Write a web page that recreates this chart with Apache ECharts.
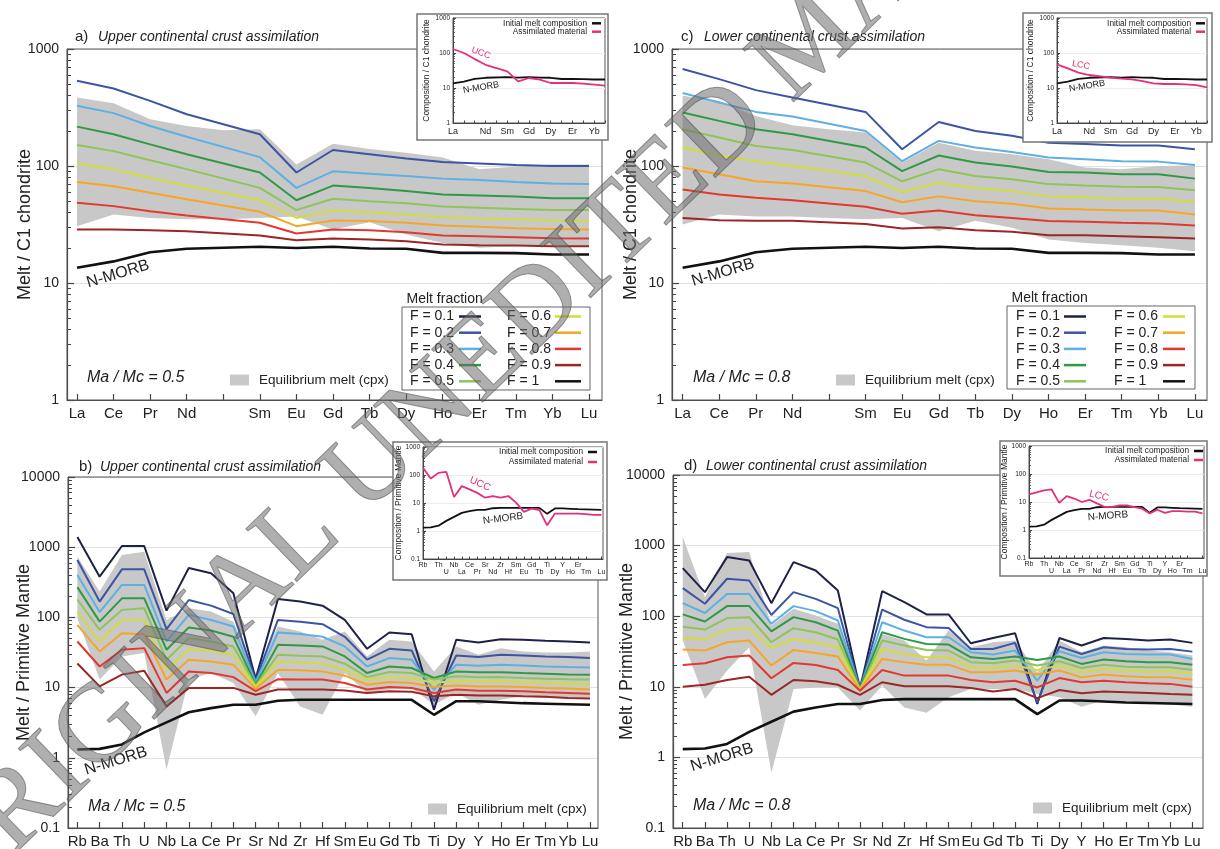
<!DOCTYPE html>
<html><head><meta charset="utf-8">
<script src="https://cdn.jsdelivr.net/npm/echarts@6/dist/echarts.min.js"></script>
<style>html,body{margin:0;padding:0;background:#fff}#c{width:1220px;height:849px}</style>
</head><body><div id="c"></div><script>
// ---------- categories ----------
const reeCats = ['La','Ce','Pr','Nd','','Sm','Eu','Gd','Tb','Dy','Ho','Er','Tm','Yb','Lu'];
const reeInsetCats = ['La','','','Nd','','Sm','','Gd','','Dy','','Er','','Yb',''];
const spiderCats = ['Rb','Ba','Th','U','Nb','La','Ce','Pr','Sr','Nd','Zr','Hf','Sm','Eu','Gd','Tb','Ti','Dy','Y','Ho','Er','Tm','Yb','Lu'];
const meltNames = ['F = 0.1','F = 0.2','F = 0.3','F = 0.4','F = 0.5','F = 0.6','F = 0.7','F = 0.8','F = 0.9','F = 1'];
const meltColors = ['#1e2246','#3b55a4','#5db0e3','#2f9a46','#8ec555','#d2dc3a','#f6a623','#e2382d','#9b2622','#111111'];

// ---------- panel a: UCC, chondrite (Pm = null) ----------
const a_F02 = [535,460,360,277,null,187,88,137,126,116,108,105,102,100,100];
const a_F03 = [327,283,220,178,null,119,65,90,86,82,78,76,73,71,70];
const a_F04 = [217,187,153,126,null,88,51,68,65,61,57,56,55,53,53];
const a_F05 = [151,134,112,94,null,65,42,52.5,50,48,45,44,43,42,42];
const a_F06 = [105,94,79,68,null,51,36,41.7,40,38.5,36.5,35.6,35,34.4,34];
const a_F07 = [73,67,59,52,null,40.6,30.6,34.2,33.8,32.7,31,30.2,29.4,29,28.6];
const a_F08 = [48.5,45.4,41,37.8,null,32.7,26.5,28.6,28.3,27.2,25.5,25.1,24.6,24.1,24];
const a_F09 = [28.6,28.6,28.3,27.7,null,25.5,23.2,24,23.5,22.7,21.3,21,20.9,20.6,20.6];
const nmorbC1 = [13.5,15.3,18.3,19.6,null,20.4,19.9,20.4,19.7,19.6,18.1,18.1,18,17.5,17.5];
const a_bandHigh = [385,344,251,220,202,206,103,155,140,130,118,94,99,103,103];
const a_bandLow = [30.6,38.5,36,35,35,36,37,28.6,33,26,22,20,20.6,21,20.6];

// ---------- panel c: LCC, chondrite ----------
const c_F02 = [674,553,445,385,null,290,139,238,199,181,158,154,150,150,139];
const c_F03 = [420,349,290,265,null,199,110,164,144,132,118,114,110,109,102];
const c_F04 = [287,243,206,187,null,144,90.5,123,107,99,89,88,85,85,78];
const c_F05 = [206,175,148,137,null,107,74,94,82,77,70,68,66.5,66,62];
const c_F06 = [144,123,110,100,null,82,60,72,65,61,55,54,52.5,52.5,49.4];
const c_F07 = [97,85,74,71,null,61,49,55,50,47.5,43.4,42.5,41.7,41.7,38.5];
const c_F08 = [63,57,53.5,51,null,44.8,39,41.7,38,36,33.8,33.4,32.7,32.3,31];
const c_F09 = [36,34.4,34,34,null,32,29.2,30,28.3,27.4,25.6,25.6,25.1,24.6,24];
const c_bandHigh = [398,360,268,223,206,193,107,158,135,126,114,97,94,100,101];
const c_bandLow = [31.6,38.5,37,37,36,35,36,27.7,34,29.6,23.5,22,21,20,18.7];

// ---------- panel b: UCC, primitive mantle ----------
const b_F01 = [1400,380,1040,1040,125,505,425,221,13.2,183,168,147,92,35.7,61,57.7,4.86,48,44,49,48,46.4,45.4,44];
const b_F02 = [656,168,484,484,68,177,147,112,12.7,92,87,80,53,25,35.7,33.8,6.4,28.7,27.2,29.4,28.7,27.8,27.2,26.3];
const b_F03 = [402,119,290,290,45.4,109,92,74,11.9,61,58,53,38.6,20,26.3,25,9.3,21.2,20.5,21.2,20.7,20,19.6,19.4];
const b_F04 = [270,87,187,187,34.6,72,65,53,11,40.7,39.9,38.6,27.8,16.1,20,19,13.7,17,16.5,16.5,16.1,15.8,15.4,15.3];
const b_F05 = [180,66.5,128,135,25,50.7,45.4,38.6,10.7,29.4,28.4,27.8,21.9,14.1,16.7,16.1,13,14.5,14,14.1,13.7,13.4,13.1,13];
const b_F06 = [121,45.4,92,92,18,35.3,33.8,29.4,10.2,23.6,22.9,21.9,18,12.7,14.1,13.7,11.6,12.5,12.1,12.3,11.9,11.6,11.4,11.1];
const b_F07 = [78,32.7,59.6,57.7,13,25,23.6,21.2,9.6,18,17.6,17,14.8,11,12,11.6,10.2,10.7,10.4,10.4,10.2,9.9,9.7,9.4];
const b_F08 = [45.4,20,34.6,36.5,8.4,17,16.1,14.1,8.9,13.2,13,13,11.6,9.4,10.2,9.9,8.4,9.4,9,9,8.9,8.6,8.4,8.2];
const b_F09 = [22,10.4,15.3,17.4,5.4,9.9,9.9,9.9,7.9,9.4,9.4,9.4,9.1,8.4,8.9,8.7,7.5,7.9,7.7,7.7,7.5,7.4,7.1,7.0];
const nmorbPM = [1.31,1.34,1.55,2.3,3.2,4.45,5.1,5.7,5.7,6.5,6.7,6.7,6.7,6.7,6.7,6.7,4.1,6.4,6.4,6.2,6.0,5.9,5.8,5.7];
const b_bandHigh = [732,233,773,863,92,135,121,87,16.1,74,63,48,63,27.8,48,45.4,17,38.6,29.4,36.5,32.7,31.7,31.7,32.7];
const b_bandLow = [97,13,27.8,31,0.68,13,16.1,11.6,3.9,16.1,5.4,4.1,16.1,8.4,9.4,9.9,5.7,8.4,5.7,6.7,7.5,7.1,7.1,7.1];

// ---------- panel d: LCC, primitive mantle ----------
const d_F01 = [480,219,687,616,153,583,444,231,9.3,226,158,106,106,41.4,49,57.4,5.7,49,38.4,49,47.7,45.2,46.7,41.9];
const d_F02 = [250,150,339,321,104,219,176,130,9.3,124,89,70,68,34.4,34.4,41.9,6.0,37.1,29.2,36.3,34.4,33.7,34.4,31.5];
const d_F03 = [153,111,207,207,78,139,118,87,9.3,82,62.6,50.4,50.4,30.9,28.6,32.6,12.2,31.9,25.6,30.9,29.2,28.6,28.6,24.8];
const d_F04 = [106,84,139,139,61,97,82,62.6,9.3,59.3,47.7,40.5,39.6,26.2,24.8,26.8,24,26.8,21.1,24.3,23,22.3,22.3,20.6];
const d_F05 = [71,64.7,94,97,42.8,67.6,59.3,46.7,9.1,45.2,38.4,33.3,32.6,22.3,21.5,23.5,20,23,18.5,20.6,19.3,18.9,18.9,17.3];
const d_F06 = [49.3,46.7,64.7,67.6,35.6,47.7,42.8,36.3,9.1,34.4,29.2,26.2,26.2,18.9,18.5,20,17.3,20,16.1,17.9,17,16.4,16.6,15.2];
const d_F07 = [33.7,32.6,42.8,45.2,20,33.3,30.2,26.8,9.0,24.8,22.3,20.6,20.6,16.1,16.1,17,14.9,17,13.6,14.9,14.1,13.6,13.6,12.6];
const d_F08 = [20.4,21.5,26.2,27.7,13.2,21.8,20.4,17.3,8.8,17.3,14.4,14.4,14.4,12.5,11.6,12.2,9.8,13.3,11.6,12.2,11.6,11.2,11,10];
const d_F09 = [10,10.7,12.5,13.9,7.7,12.5,12,10.7,7.7,11.6,10.2,10.2,10.2,9.6,8.6,9.3,6.9,9.0,8.1,8.6,8.4,8.2,7.9,7.7];
const d_bandHigh = [1320,186,783,809,74,127,102,78,12.2,56,45.2,23.5,62.6,36.3,42.8,45.2,16.1,45.2,30.9,38.4,36.3,32.6,30.9,27.7];
const d_bandLow = [45.2,6.7,17,36.3,0.61,9.3,9.8,9.8,4.6,10.4,5.1,4.3,7.1,9.3,9.3,9.3,7.9,7.1,5.2,6.4,6.2,5.8,5.6,5.2];

// ---------- insets: assimilated material ----------
const uccC1 = [130,100,67,46,null,30,15.5,19.3,17.3,13.9,13.9,13.9,13.3,12.5,11.7];
const lccC1 = [47.6,36.5,27.4,23.5,null,19.7,18.5,17.6,15.8,13.5,13,13,12.7,12.1,10.4];
const uccPM = [180,75,119,130,16.3,40,30.5,23,15.5,17.7,15.5,17.7,10.3,4.8,6.3,5.6,1.6,4.2,4.2,4.2,4.2,4.0,3.75,3.75];
const lccPM = [18.6,22,26,28,9.3,16.2,13.3,10,12,8.9,6.7,6.7,7.5,7.5,6.6,5.8,3.9,5.3,4.1,4.7,4.7,4.5,4.5,3.9];

// ---------- styling ----------
const FONT = "'Liberation Sans', Arial, sans-serif";
const AX = '#444';
const BAND = '#c8c8c8';
const PINK = '#e2307c';

const grids = [
  {left:67, top:49, width:535, height:351},
  {left:672, top:49, width:535, height:351},
  {left:68, top:477, width:530, height:352},
  {left:673, top:475, width:530, height:353},
  {left:453, top:18, width:152, height:105},
  {left:1057, top:18, width:150, height:105},
  {left:423, top:447, width:180, height:112},
  {left:1029, top:446, width:175, height:112}
];

const pts = arr => arr.map((v, i) => [i, v]).filter(p => p[1] != null);
const fmt = v => String(+(+v).toPrecision(6));

function mainX(gi, cats, min, max) {
  const all = cats.map((_, i) => i);
  return {gridIndex: gi, type: 'value', min, max, splitLine: {show: false},
    axisLine: {show: true, onZero: false, lineStyle: {color: AX, width: 1.2}},
    axisTick: {show: true, inside: true, length: 6, customValues: all, lineStyle: {color: AX, width: 1.2}},
    axisLabel: {show: true, customValues: all, formatter: v => cats[Math.round(v)] || '', hideOverlap: false,
      fontFamily: FONT, fontSize: 15, color: '#222', margin: 6}};
}
function mainY(gi, min, max, name, gap) {
  return {gridIndex: gi, type: 'log', logBase: 10, min, max, position: 'left',
    axisLine: {show: true, onZero: false, lineStyle: {color: AX, width: 1.2}},
    axisTick: {show: true, inside: true, length: 7, lineStyle: {color: AX, width: 1.2}},
    axisLabel: {fontFamily: FONT, fontSize: 14, color: '#222', margin: 8, formatter: fmt},
    splitLine: {show: true, lineStyle: {color: '#e2e2e2', width: 1}},
    name, nameLocation: 'middle', nameGap: gap, nameMoveOverlap: false,
    nameTextStyle: {fontFamily: FONT, fontSize: 18, color: '#222'}};
}
function minorY(gi, min, max, len, z) {
  const vals = [];
  for (let d = min; d < max * 0.99; d *= 10) for (let k = 2; k <= 9; k++) vals.push(+(d * k).toPrecision(6));
  return {gridIndex: gi, type: 'log', logBase: 10, min, max, position: 'left', z: z || 0,
    axisLine: {show: false, onZero: false}, axisLabel: {show: false}, splitLine: {show: false},
    axisTick: {show: true, inside: true, length: len, customValues: vals, lineStyle: {color: AX, width: 1}}};
}
function insetX(gi, cats, max, labelIdx, twoRow) {
  return {gridIndex: gi, type: 'value', min: 0, max, z: 61, splitLine: {show: false},
    axisLine: {show: true, onZero: false, lineStyle: {color: AX, width: 1}},
    axisTick: {show: true, inside: true, length: 2.5, customValues: cats.map((_, i) => i), lineStyle: {color: AX}},
    axisLabel: {customValues: labelIdx, formatter: v => {const i = Math.round(v); return twoRow && i % 2 ? '\n' + cats[i] : cats[i];},
      hideOverlap: false, showMinLabel: true, showMaxLabel: true,
      fontFamily: FONT, fontSize: twoRow ? 7 : 9, lineHeight: twoRow ? 6.5 : 10, color: '#222', margin: twoRow ? 3 : 4}};
}
function insetY(gi, min, max, name, gap) {
  return {gridIndex: gi, type: 'log', logBase: 10, min, max, position: 'left', z: 61,
    axisLine: {show: true, onZero: false, lineStyle: {color: AX, width: 1}},
    axisTick: {show: true, inside: true, length: 3, lineStyle: {color: AX}},
    axisLabel: {fontFamily: FONT, fontSize: 6.5, color: '#222', margin: 3, formatter: fmt},
    splitLine: {show: true, lineStyle: {color: '#ececec', width: 1}},
    name, nameLocation: 'middle', nameGap: gap, nameMoveOverlap: false,
    nameTextStyle: {fontFamily: FONT, fontSize: 8.5, color: '#222'}};
}
function line(name, data, ai, color, width, z) {
  return {type: 'line', name, xAxisIndex: ai, yAxisIndex: ai, data: pts(data), symbol: 'none',
    color, itemStyle: {color}, lineStyle: {color, width}, z: z || 3, silent: true, animation: false};
}
function band(low, high, ai) {
  const data = low.map((v, i) => [i, v, high[i]]);
  return {type: 'custom', name: 'Equilibrium melt (cpx)', xAxisIndex: ai, yAxisIndex: ai, data,
    z: 1, silent: true, clip: true, color: BAND, itemStyle: {color: BAND},
    encode: {x: 0, y: [1, 2]},
    renderItem: (params, api) => {
      if (params.dataIndexInside !== 0) return null;
      const n = params.dataInsideLength;
      const top = [], bot = [];
      for (let k = 0; k < n; k++) {
        top.push(api.coord([api.value(0, k), api.value(2, k)]));
        bot.push(api.coord([api.value(0, k), api.value(1, k)]));
      }
      return {type: 'polygon', shape: {points: top.concat(bot.reverse())}, style: {fill: BAND}};
    }};
}

const series = [];
series.push(band(a_bandLow, a_bandHigh, 0));
series.push(band(c_bandLow, c_bandHigh, 1));
series.push(band(b_bandLow, b_bandHigh, 2));
series.push(band(d_bandLow, d_bandHigh, 3));
const panelA = [null, a_F02, a_F03, a_F04, a_F05, a_F06, a_F07, a_F08, a_F09, nmorbC1];
const panelC = [null, c_F02, c_F03, c_F04, c_F05, c_F06, c_F07, c_F08, c_F09, nmorbC1];
const panelB = [b_F01, b_F02, b_F03, b_F04, b_F05, b_F06, b_F07, b_F08, b_F09, nmorbPM];
const panelD = [d_F01, d_F02, d_F03, d_F04, d_F05, d_F06, d_F07, d_F08, d_F09, nmorbPM];
[[panelA, 0], [panelC, 1], [panelB, 2], [panelD, 3]].forEach(([arrs, ai]) => {
  arrs.forEach((arr, k) => {
    if (arr) series.push(line(meltNames[k], arr, ai, meltColors[k], k === 9 ? 2.6 : 2, 3));
  });
});
[[nmorbC1, uccC1, 4], [nmorbC1, lccC1, 5], [nmorbPM, uccPM, 6], [nmorbPM, lccPM, 7]].forEach(([n, m, ai]) => {
  series.push(line('Initial melt composition', n, ai, '#111', 1.8, 62));
  series.push(line('Assimilated material', m, ai, PINK, 1.8, 63));
});

function meltLegend(left, top, names, textW, iconW) {
  return {show: true, orient: 'vertical', left, top, data: names, align: 'right', icon: 'rect',
    itemWidth: iconW, itemHeight: 2.5, itemGap: 0.2, padding: 0, selectedMode: false,
    formatter: '{t|{name}}',
    textStyle: {fontFamily: FONT, fontSize: 14, color: '#222', lineHeight: 16,
      rich: {t: {width: textW, align: 'left', fontFamily: FONT, fontSize: 14, color: '#222', lineHeight: 16}}}};
}
function eqLegend(left, top) {
  return {show: true, left, top, data: [{name: 'Equilibrium melt (cpx)', icon: 'rect', itemStyle: {color: BAND}}],
    itemWidth: 19, itemHeight: 11, padding: 0, selectedMode: false,
    textStyle: {fontFamily: FONT, fontSize: 13.5, color: '#222', lineHeight: 16, padding: [0, 0, 0, 5]}};
}
function inLegend(name, right, top) {
  return {show: true, right, top, data: [name], align: 'right', icon: 'rect', z: 64,
    itemWidth: 9, itemHeight: 2.5, padding: 0, selectedMode: false,
    textStyle: {fontFamily: FONT, fontSize: 8.3, color: '#222', lineHeight: 9}};
}

const legend = [
  meltLegend(410, 308.5, meltNames.slice(0, 5), 44, 22),
  meltLegend(507, 308.5, meltNames.slice(5), 43, 26),
  meltLegend(1016, 308.5, meltNames.slice(0, 5), 43, 22),
  meltLegend(1114, 308.5, meltNames.slice(5), 44, 22),
  eqLegend(230, 372), eqLegend(836, 372), eqLegend(428, 801), eqLegend(1033, 800),
  inLegend('Initial melt composition', 619, 18.8), inLegend('Assimilated material', 619, 27.2),
  inLegend('Initial melt composition', 15, 18.8), inLegend('Assimilated material', 15, 27.2),
  inLegend('Initial melt composition', 623, 447.5), inLegend('Assimilated material', 623, 457.5),
  inLegend('Initial melt composition', 17, 446.5), inLegend('Assimilated material', 17, 455.5)
];

function txt(x, y, text, font, opts) {
  opts = opts || {};
  const style = {text, font, fill: opts.fill || '#222', align: opts.align || 'left', verticalAlign: 'middle'};
  if (opts.stroke) { style.stroke = opts.stroke; style.lineWidth = opts.lineWidth || 1; }
  return {type: 'text', x, y, rotation: opts.rot || 0, z: opts.z || 70, silent: true, style};
}
const TF = '14px ' + FONT;
const TI = 'italic 14px ' + FONT;
const graphic = [
  {type: 'rect', z: 50, silent: true, shape: {x: 417, y: 14, width: 191, height: 126}, style: {fill: '#fff', stroke: '#777', lineWidth: 1.5}},
  {type: 'rect', z: 50, silent: true, shape: {x: 1023, y: 13, width: 189, height: 129}, style: {fill: '#fff', stroke: '#777', lineWidth: 1.5}},
  {type: 'rect', z: 50, silent: true, shape: {x: 393, y: 442, width: 214, height: 138}, style: {fill: '#fff', stroke: '#777', lineWidth: 1.5}},
  {type: 'rect', z: 50, silent: true, shape: {x: 1000, y: 441, width: 207, height: 135}, style: {fill: '#fff', stroke: '#777', lineWidth: 1.5}},
  {type: 'rect', z: 5, silent: true, shape: {x: 402, y: 307, width: 188, height: 83}, style: {fill: 'none', stroke: '#666', lineWidth: 1}},
  {type: 'rect', z: 5, silent: true, shape: {x: 1007, y: 306, width: 188, height: 83}, style: {fill: 'none', stroke: '#666', lineWidth: 1}},
  txt(406.5, 299, 'Melt fraction', TF), txt(1011.5, 298, 'Melt fraction', TF),
  txt(75, 37, 'a)', '15px ' + FONT), txt(98, 37, 'Upper continental crust assimilation', TI),
  txt(681, 37, 'c)', '15px ' + FONT), txt(704, 37, 'Lower continental crust assimilation', TI),
  txt(79, 467, 'b)', '15px ' + FONT), txt(100, 467, 'Upper continental crust assimilation', TI),
  txt(684, 466, 'd)', '15px ' + FONT), txt(706, 466, 'Lower continental crust assimilation', TI),
  txt(87, 378, 'Ma / Mc = 0.5', 'italic 16px ' + FONT), txt(693, 378, 'Ma / Mc = 0.8', 'italic 16px ' + FONT),
  txt(88, 807, 'Ma / Mc = 0.5', 'italic 16px ' + FONT), txt(693, 805.5, 'Ma / Mc = 0.8', 'italic 16px ' + FONT),
  txt(118, 274, 'N-MORB', '16px ' + FONT, {align: 'center', rot: 0.29}),
  txt(723, 272.5, 'N-MORB', '16px ' + FONT, {align: 'center', rot: 0.29}),
  txt(116, 761, 'N-MORB', '16px ' + FONT, {align: 'center', rot: 0.3}),
  txt(722, 757.5, 'N-MORB', '16px ' + FONT, {align: 'center', rot: 0.3}),
  txt(481, 53, 'UCC', '9px ' + FONT, {align: 'center', rot: -0.35, fill: PINK, z: 70}),
  txt(481, 87.5, 'N-MORB', '9px ' + FONT, {align: 'center', rot: 0.17, z: 70}),
  txt(1081, 65, 'LCC', '9px ' + FONT, {align: 'center', rot: -0.2, fill: PINK, z: 70}),
  txt(1087, 86, 'N-MORB', '9px ' + FONT, {align: 'center', rot: 0.17, z: 70}),
  txt(480, 484, 'UCC', '10px ' + FONT, {align: 'center', rot: -0.42, fill: PINK, z: 70}),
  txt(503, 518.5, 'N-MORB', '10px ' + FONT, {align: 'center', rot: 0.12, z: 70}),
  txt(1099, 496, 'LCC', '10px ' + FONT, {align: 'center', rot: -0.25, fill: PINK, z: 70}),
  txt(1108, 516, 'N-MORB', '10px ' + FONT, {align: 'center', rot: 0.08, z: 70}),
  // diagonal manuscript watermark
  txt(-66, 891, 'ORIGINAL UNEDITED MANUSCRIPT', "112px 'Liberation Serif', 'Times New Roman', serif",
    {rot: 0.768, fill: 'rgba(110,110,110,0.55)', stroke: 'rgba(60,60,60,0.55)', lineWidth: 1, z: 100})
];

const xAxis = [
  mainX(0, reeCats, -0.273, 14.355),
  mainX(1, reeCats, -0.29, 14.33),
  mainX(2, spiderCats, -0.42, 23.36),
  mainX(3, spiderCats, -0.44, 23.48),
  insetX(4, reeInsetCats, 14, [0, 3, 5, 7, 9, 11, 13], false),
  insetX(5, reeInsetCats, 14, [0, 3, 5, 7, 9, 11, 13], false),
  insetX(6, spiderCats, 23.2, spiderCats.map((_, i) => i), true),
  insetX(7, spiderCats, 23.2, spiderCats.map((_, i) => i), true)
];
const yAxis = [
  mainY(0, 1, 1000, 'Melt / C1 chondrite', 33),
  mainY(1, 1, 1000, 'Melt / C1 chondrite', 32),
  mainY(2, 0.1, 10000, 'Melt / Primitive Mantle', 35),
  mainY(3, 0.1, 10000, 'Melt / Primitive Mantle', 37),
  insetY(4, 1, 1000, 'Composition / C1 chondrite', 22),
  insetY(5, 1, 1000, 'Composition / C1 chondrite', 22),
  insetY(6, 0.1, 1000, 'Composition / Primitive Mantle', 20),
  insetY(7, 0.1, 1000, 'Composition / Primitive Mantle', 20),
  minorY(0, 1, 1000, 4), minorY(1, 1, 1000, 4), minorY(2, 0.1, 10000, 4), minorY(3, 0.1, 10000, 4),
  minorY(4, 1, 1000, 1.8, 61), minorY(5, 1, 1000, 1.8, 61), minorY(6, 0.1, 1000, 1.8, 61), minorY(7, 0.1, 1000, 1.8, 61)
];

const chart = echarts.init(document.getElementById('c'), null, {renderer: 'canvas', width: 1220, height: 849});
chart.setOption({
  animation: false,
  backgroundColor: '#fff',
  grid: grids.map((g, i) => Object.assign({}, g, {show: true, borderColor: '#555', borderWidth: 1,
    backgroundColor: 'transparent', z: i < 4 ? 2 : 60})),
  xAxis, yAxis, series, legend, graphic
});
</script></body></html>
